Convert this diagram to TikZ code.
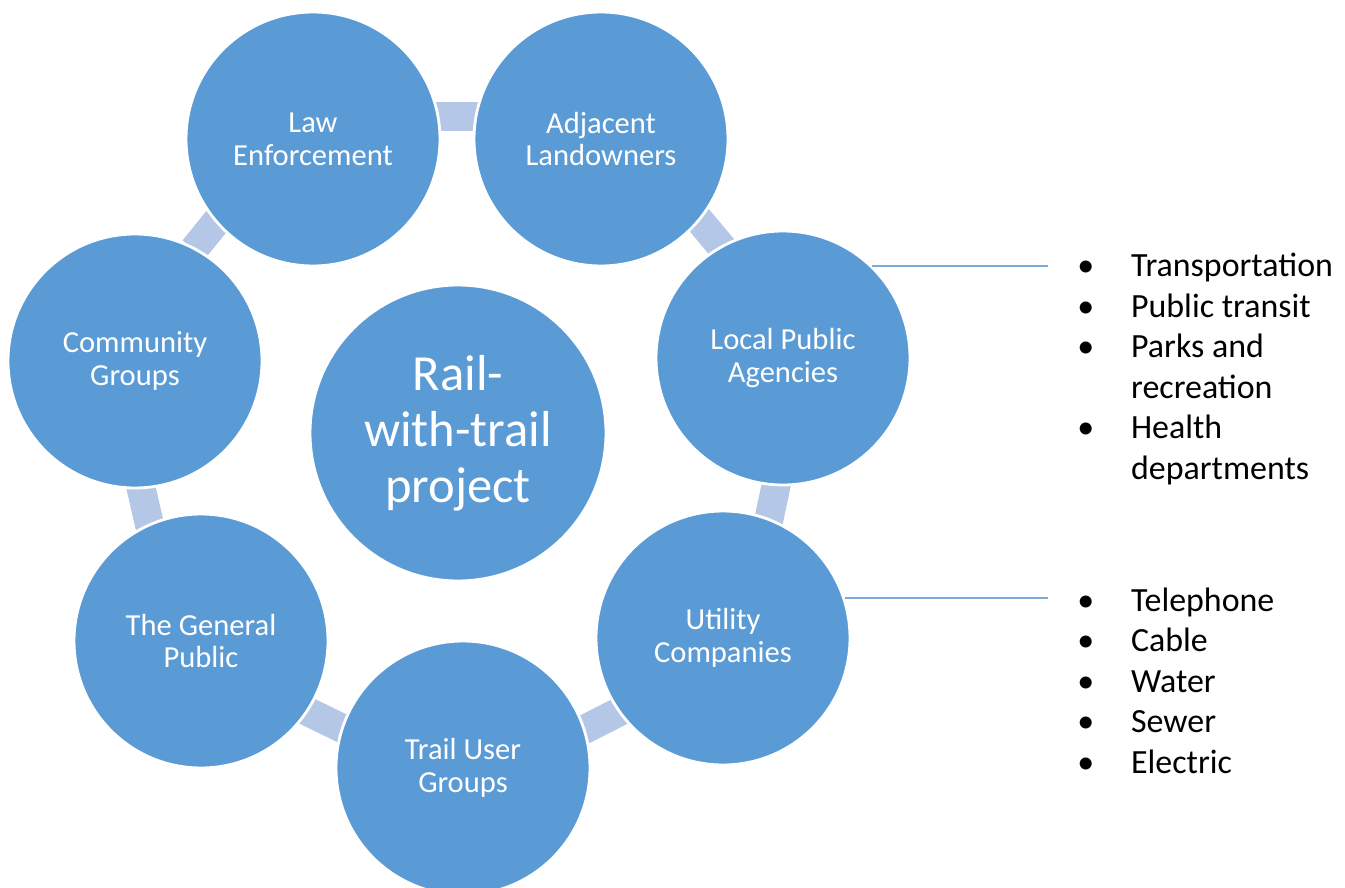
\documentclass[tikz,border=0pt]{standalone}
\usepackage{fontspec}
\setmainfont{Carlito}
\definecolor{circblue}{HTML}{5B9BD5}
\definecolor{linkblue}{HTML}{B4C7E7}
\definecolor{leaderblue}{HTML}{7AA9DA}

\tikzset{party/.style = {circle, fill=circblue, draw=white, line width=1.6pt,
                         minimum size=5.08cm, inner sep=0pt, text=white, align=center,
                         font=\fontsize{17.4}{18.7}\selectfont},
         hub/.style = {party, minimum size=5.92cm, font=\fontsize{28.8}{32}\selectfont},
         link/.style = {rectangle, fill=linkblue, minimum width=0.9cm,
                        minimum height=0.58cm, inner sep=0pt},
         leader/.style = {draw=leaderblue, line width=1pt},
         itemlist/.style = {anchor=west, inner sep=0pt, align=left,
                            font=\fontsize{19.3}{23.07}\selectfont}
        }

\begin{document}
\begin{tikzpicture}[x=0.02cm, y=-0.02cm]
  \useasboundingbox (0,0) rectangle (1345,888);
  % links between neighbouring circles
  \foreach \px/\py/\ang [count=\i] in {457/117/0, 710/233/-50, 773/500/78, 603/720/27,
                                       325/720/-26, 145/505/-77, 208/232/51}
    \node[link, rotate=\ang] (link\i) at (\px,\py) {};
  % the project and its partners
  \node[hub] (hub) at (458,433) {Rail-\\with-trail\\project};
  \node[party] (law) at (313,139) {Law\\Enforcement};
  \node[party] (land) at (601,139) {Adjacent\\Landowners};
  \node[party] (agencies) at (783,358) {Local Public\\Agencies};
  \node[party] (utility) at (723,638) {Utility\\Companies};
  \node[party] (users) at (463,768) {Trail User\\Groups};
  \node[party] (public) at (201,641) {The General\\Public};
  \node[party] (community) at (135,361) {Community\\Groups};
  % leaders to the lists
  \coordinate (tip1) at (1048,266);
  \coordinate (tip2) at (1048,599);
  \draw[leader] (agencies.46) -- (agencies.46 -| tip1);
  \draw[leader] (utility.18) -- (utility.18 -| tip2);
  \node[itemlist] (agencylist) at (1077,370) {%
    \begin{tabular}{@{}p{30.6pt}@{}l@{}}
      \textbullet & Transportation\\
      \textbullet & Public transit\\
      \textbullet & Parks and\\
                  & recreation\\
      \textbullet & Health\\
                  & departments
    \end{tabular}};
  \node[itemlist] (utilitylist) at (1077,684) {%
    \begin{tabular}{@{}p{30.6pt}@{}l@{}}
      \textbullet & Telephone\\
      \textbullet & Cable\\
      \textbullet & Water\\
      \textbullet & Sewer\\
      \textbullet & Electric
    \end{tabular}};
\end{tikzpicture}
\end{document}
